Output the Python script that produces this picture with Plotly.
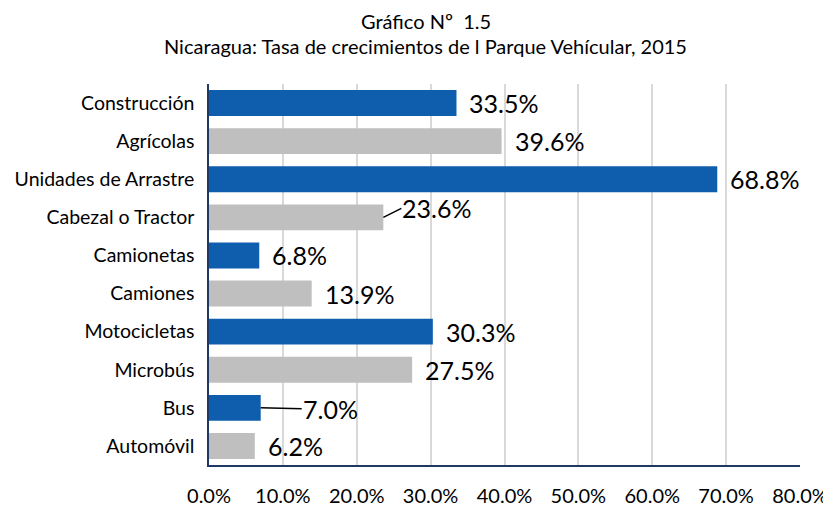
import plotly.graph_objects as go

categories = ["Construcción", "Agrícolas", "Unidades de Arrastre", "Cabezal o Tractor",
              "Camionetas", "Camiones", "Motocicletas", "Microbús", "Bus", "Automóvil"]
values = [33.5, 39.6, 68.8, 23.6, 6.8, 13.9, 30.3, 27.5, 7.0, 6.2]
bar_colors = ["#0E5EAD", "#BFBFBF"] * 5
tick_vals = [0, 10, 20, 30, 40, 50, 60, 70, 80]
tick_text = [f"{v:.1f}%" for v in tick_vals]
title_lines = ["Gráfico Nº  1.5", "Nicaragua: Tasa de crecimientos de l Parque Vehícular, 2015"]

FONT = "Lato"

fig = go.Figure(go.Bar(
    x=values, y=categories, orientation="h",
    marker=dict(color=bar_colors, line=dict(width=0)),
    width=0.68, hoverinfo="skip",
))

# Data labels; leader lines for two labels as in the original
leader = {"Cabezal o Tractor": (18, -9), "Bus": (41, 1)}
for cat, v in zip(categories, values):
    label = f"{v:.1f}%"
    if cat in leader:
        ax, ay = leader[cat]
        fig.add_annotation(x=v, y=cat, xref="x", yref="y", text=label,
                           showarrow=True, arrowhead=0, arrowwidth=1.5, arrowcolor="#000",
                           ax=ax, ay=ay, xanchor="left", standoff=0, borderpad=0,
                           font=dict(family=FONT, size=25, color="#000"))
    else:
        fig.add_annotation(x=v, y=cat, xref="x", yref="y", text=label,
                           showarrow=False, xanchor="left", xshift=11,
                           font=dict(family=FONT, size=25, color="#000"))

# Two-line title
for line, shift in zip(title_lines, [63, 38]):
    fig.add_annotation(x=0.367, y=1, xref="paper", yref="paper", text=line,
                       showarrow=False, xanchor="center", yanchor="middle", yshift=shift,
                       font=dict(family=FONT, size=20, color="#000"))

# the page places the figure 8px in from the top-left corner
fig.update_layout(
    width=823, height=498,
    paper_bgcolor="white", plot_bgcolor="white",
    margin=dict(l=201, r=31, t=76, b=41, autoexpand=False),
    showlegend=False,
    bargap=0.32,
    font=dict(family=FONT, color="#000"),
    xaxis=dict(range=[0, 80], tickvals=tick_vals, ticktext=tick_text,
               showgrid=True, gridcolor="#D9D9D9", gridwidth=1.5,
               zeroline=False, showline=True, linecolor="#1F3864", linewidth=1.5,
               ticks="", ticklabelstandoff=12, automargin=False,
               tickfont=dict(family=FONT, size=20, color="#000")),
    yaxis=dict(autorange="reversed", showline=True, linecolor="#1F3864", linewidth=1.5,
               ticks="", ticklabelstandoff=9, showgrid=False, automargin=False,
               tickfont=dict(family=FONT, size=19.5, color="#000")),
)

fig.write_html("out.html")
